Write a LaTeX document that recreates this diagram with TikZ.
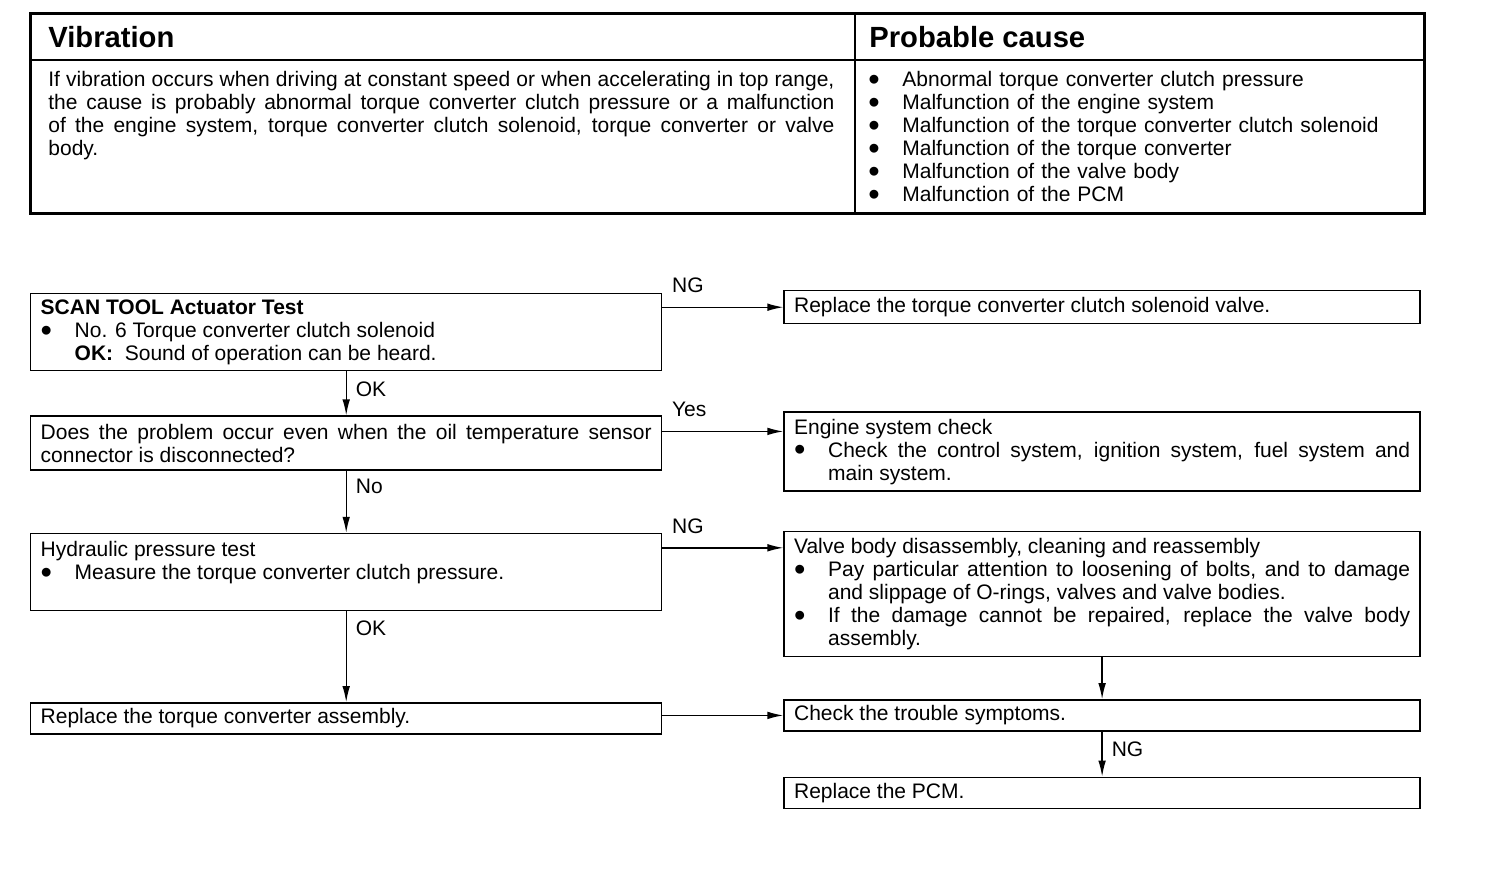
\documentclass[tikz,border=0pt]{standalone}
\usepackage{fontspec}
\setmainfont{Liberation Sans}
\usetikzlibrary{arrows.meta, positioning}
\setlength\parindent{0pt}

\newcommand\normaltext{\fontsize{10.5}{11.5}\selectfont}
\newcommand\headtext{\fontsize{14.6}{16}\selectfont\bfseries}
\newcommand\blt{\raisebox{-0.35ex}{\scalebox{1.55}{\textbullet}}}
\newcommand\bfirst{\hangindent=17pt\hangafter=1\noindent\makebox[17pt][l]{\blt}}
\newcommand\bitem{\par\bfirst}

\tikzstyle{stepbox} = [rectangle, draw=black, line width=0.7pt,
 inner xsep=5pt, inner ysep=2pt, text width=305.5pt,
 align=justify, font=\normaltext]
\tikzstyle{resultbox} = [stepbox, text width=308pt]
\tikzstyle{cell} = [inner sep=0pt, anchor=north west, font=\normaltext]
\tikzstyle{lbl} = [inner sep=0pt, font=\normaltext]
\tikzstyle{arrow} = [line width=0.7pt, -{Latex[length=8pt,width=3.8pt]}]

\begin{document}
\begin{tikzpicture}[x=0.5pt, y=-0.5pt]
\useasboundingbox (0,0) rectangle (1504,890);

% symptom table
\draw[line width=1.5pt] (30,13) rectangle (1424,213);
\draw[line width=1.1pt] (30,60) -- (1424,60);
\draw[line width=0.8pt] (855,13) -- (855,213);
\node(vib_head) [lbl, anchor=west, font=\headtext] at (48,37) {Vibration};
\node(cause_head) [lbl, anchor=west, font=\headtext] at (869,37) {Probable cause};
\node(vib_text) [cell, text width=393pt, align=justify] at (48,71)
 {If vibration occurs when driving at constant speed or when accelerating in top range,\linebreak
 the cause is probably abnormal torque converter clutch pressure or a malfunction\linebreak
 of the engine system, torque converter clutch solenoid, torque converter or valve\linebreak
 body.};
\node(cause_text) [cell, text width=270pt, align=left] at (868,71)
 {\bfirst Abnormal torque converter clutch pressure
 \bitem Malfunction of the engine system
 \bitem Malfunction of the torque converter clutch solenoid
 \bitem Malfunction of the torque converter
 \bitem Malfunction of the valve body
 \bitem Malfunction of the PCM\par};

% flow chart
\node(scan) [stepbox, minimum height=38.5pt, anchor=north west] at (30,293)
 {\textbf{SCAN TOOL Actuator Test}
 \bitem No. 6 Torque converter clutch solenoid
 \par\noindent\hspace*{17pt}\textbf{OK:}\ \ Sound of operation can be heard.};
\node(oiltemp) [stepbox, minimum height=27pt, below=22pt of scan]
 {Does the problem occur even when the oil temperature sensor\linebreak
 connector is disconnected?};
\node(hydro) [stepbox, minimum height=38.5pt, below=31pt of oiltemp]
 {Hydraulic pressure test
 \bitem Measure the torque converter clutch pressure.
 \par\mbox{}};
\node(tcassy) [stepbox, minimum height=15.5pt, below=45.5pt of hydro]
 {Replace the torque converter assembly.};

\node(replace) [resultbox, minimum height=16.5pt, right=60.5pt of scan.north east,
 anchor=north west, yshift=1.5pt]
 {Replace the torque converter clutch solenoid valve.};
\node(engine) [resultbox, minimum height=39.5pt, right=60.5pt of oiltemp.north east,
 anchor=north west, yshift=2pt]
 {Engine system check
 \bitem Check the control system, ignition system, fuel system and\linebreak
 main system.\par};
\node(valve) [resultbox, minimum height=62.5pt, right=60.5pt of hydro.north east,
 anchor=north west, yshift=1pt]
 {Valve body disassembly, cleaning and reassembly
 \bitem Pay particular attention to loosening of bolts, and to damage\linebreak
 and slippage of O-rings, valves and valve bodies.
 \bitem If the damage cannot be repaired, replace the valve body\linebreak
 assembly.\par};
\node(check) [resultbox, minimum height=15.5pt, right=60.5pt of tcassy.north east,
 anchor=north west, yshift=1.5pt]
 {Check the trouble symptoms.};
\node(pcm) [resultbox, minimum height=15.5pt, below=22.5pt of check]
 {Replace the PCM.};

\coordinate(yes_out) at ([yshift=-8pt]oiltemp.north east);
\coordinate(ng_out) at ([yshift=-7.5pt]hydro.north east);

\draw[arrow] (scan.east |- replace.west) -- (replace.west)
 node[lbl, anchor=base west, pos=0, xshift=4.5pt, yshift=7.5pt] {NG};
\draw[arrow] (yes_out) -- (yes_out -| engine.west)
 node[lbl, anchor=base west, pos=0, xshift=4.5pt, yshift=7.5pt] {Yes};
\draw[arrow] (ng_out) -- (ng_out -| valve.west)
 node[lbl, anchor=base west, pos=0, xshift=4.5pt, yshift=7pt] {NG};
\draw[arrow] (tcassy.east |- check.west) -- (check.west);
\draw[arrow] (scan) -- (oiltemp)
 node[lbl, anchor=west, pos=0, xshift=4.5pt, yshift=-9pt] {OK};
\draw[arrow] (oiltemp) -- (hydro)
 node[lbl, anchor=west, pos=0, xshift=4.5pt, yshift=-8pt] {No};
\draw[arrow] (hydro) -- (tcassy)
 node[lbl, anchor=west, pos=0, xshift=4.5pt, yshift=-8.5pt] {OK};
\draw[arrow] (valve) -- (check);
\draw[arrow] (check) -- (pcm)
 node[lbl, anchor=west, pos=0, xshift=4.5pt, yshift=-9pt] {NG};
\end{tikzpicture}
\end{document}
